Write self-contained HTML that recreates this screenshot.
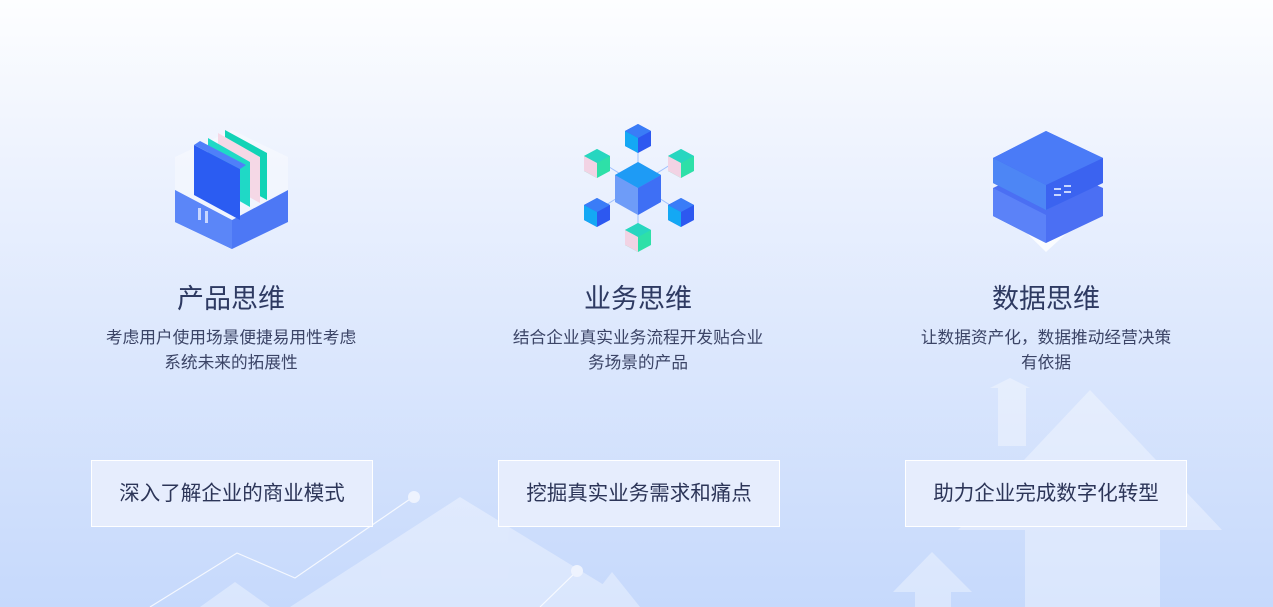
<!DOCTYPE html>
<html><head><meta charset="utf-8"><style>
*{margin:0;padding:0;box-sizing:border-box}
body{width:1273px;height:607px;overflow:hidden;position:relative;background:linear-gradient(#fdfeff 0%,#eef3fe 25%,#dde8fd 55%,#c6d9fc 100%);font-family:"Liberation Sans","Noto Sans CJK SC",sans-serif}
.bg{position:absolute;left:0;top:0}
.col{position:absolute;width:400px;text-align:center}
.t{position:absolute;top:277px;width:100%;font-size:27px;color:#2e3a62}
.d{position:absolute;top:325px;width:100%;font-size:16.7px;line-height:25px;color:#3b4466}
.box{position:absolute;top:460px;width:282px;height:67px;background:#e6edfd;border:1px solid #fff;font-size:20.5px;color:#2c3558;line-height:65px;text-align:center}
.ic{position:absolute}
</style></head><body>
<svg class="bg" width="1273" height="607">
<g fill="#fff" opacity="0.35">
<polygon points="1090,390 958,530 1222,530"/>
<rect x="1025" y="528" width="135" height="79"/>
<polygon points="1010,378 990,388 1030,388"/>
<rect x="998" y="386" width="28" height="60"/>
<polygon points="932,552 893,592 972,592"/>
<rect x="915" y="590" width="36" height="17"/>
<polygon points="460,497 290,607 640,607"/>
<polygon points="235,582 200,607 270,607"/>
<polygon points="612,572 585,607 640,607"/>
</g>
<g stroke="#fff" stroke-width="1.2" fill="none" opacity="0.8">
<polyline points="150,607 237,553 295,578 413,497"/>
<line x1="540" y1="607" x2="577" y2="571"/>
</g>
<circle cx="414" cy="497" r="6" fill="#eef3fe"/>
<circle cx="577" cy="571" r="6" fill="#eef3fe"/>
</svg>

<svg class="ic" style="left:170px;top:125px" width="125" height="125" viewBox="0 0 125 125">
<polygon points="5,65 62,95 118,65 118,97 62,124 5,97" fill="#4d78f5"/>
<polygon points="5,65 62,95 62,124 5,97" fill="#5b86f8"/>
<polygon points="5,32 62,5 118,32 118,65 62,95 5,65" fill="#fff" opacity="0.35"/>
<polygon points="55,5 97,28 97,75 55,52" fill="#12d3b6"/>
<polygon points="48,8 90,32 90,78 48,55" fill="#f5d8e6"/>
<polygon points="38,13 80,37 80,82 38,58" fill="#1fd9c6"/>
<polygon points="24,20 70,44 70,95 24,70" fill="#2b5cf2"/>
<polygon points="24,20 30,16 76,40 70,44" fill="#4f7ff9"/>
<rect x="28" y="83" width="3" height="12" fill="#c8d6ff"/><rect x="35" y="86" width="3" height="12" fill="#c8d6ff"/>
</svg>

<svg class="ic" style="left:578px;top:120px" width="120" height="135" viewBox="0 0 120 135">
<defs>
<g id="c"><polygon points="0,-14 13,-7 13,8 0,15 -13,8 -13,-7" fill="#2d58f0"/><polygon points="0,-14 13,-7 0,0 -13,-7" fill="#3a7cf7"/><polygon points="-13,-7 0,0 0,15 -13,8" fill="#14a8f4"/></g>
<g id="g"><polygon points="0,-14 13,-7 13,8 0,15 -13,8 -13,-7" fill="#2ee0a8"/><polygon points="0,-14 13,-7 0,0 -13,-7" fill="#27d6c0"/><polygon points="-13,-7 0,0 0,15 -13,8" fill="#f2d3e4"/></g>
</defs>
<g stroke="#9fc0ff" stroke-width="1"><line x1="60" y1="20" x2="60" y2="110"/><line x1="20" y1="40" x2="100" y2="90"/><line x1="100" y1="40" x2="20" y2="90"/></g>
<polygon points="60,42 83,55 83,82 60,95 37,82 37,55" fill="#6e9cf8"/>
<polygon points="60,42 83,55 60,68 37,55" fill="#1e9bf5"/>
<polygon points="60,68 83,55 83,82 60,95" fill="#3e6ff5"/>
<use href="#c" transform="translate(60,18)"/>
<use href="#c" transform="translate(19,92)"/>
<use href="#c" transform="translate(103,92)"/>
<use href="#g" transform="translate(19,43)"/>
<use href="#g" transform="translate(103,43)"/>
<use href="#g" transform="translate(60,117)"/>
</svg>

<svg class="ic" style="left:988px;top:128px" width="120" height="125" viewBox="0 0 120 125">
<polygon points="5,72 58,98 115,72 58,124" fill="#fff" opacity="0.8"/>
<polygon points="5,60 58,35 115,60 115,88 58,115 5,88" fill="#4b6ff3"/>
<polygon points="5,60 58,87 58,115 5,88" fill="#5b82f8"/>
<polygon points="8,55 58,30 112,55 58,82" fill="#27d7d0"/>
<polygon points="5,30 58,3 115,30 115,55 58,82 5,55" fill="#3b63f0"/>
<polygon points="5,30 58,3 115,30 58,57" fill="#4a7bf7"/>
<polygon points="5,30 58,57 58,82 5,55" fill="#4d86f5"/>
<g fill="#c8d6ff"><rect x="66" y="60" width="7" height="2"/><rect x="76" y="57" width="7" height="2"/><rect x="66" y="66" width="7" height="2"/><rect x="76" y="63" width="7" height="2"/></g>
</svg>

<div class="col" style="left:31px"><div class="t">产品思维</div><div class="d">考虑用户使用场景便捷易用性考虑<br>系统未来的拓展性</div></div>
<div class="col" style="left:438px"><div class="t">业务思维</div><div class="d">结合企业真实业务流程开发贴合业<br>务场景的产品</div></div>
<div class="col" style="left:846px"><div class="t">数据思维</div><div class="d">让数据资产化，数据推动经营决策<br>有依据</div></div>

<div class="box" style="left:91px">深入了解企业的商业模式</div>
<div class="box" style="left:498px">挖掘真实业务需求和痛点</div>
<div class="box" style="left:905px">助力企业完成数字化转型</div>
</body></html>
